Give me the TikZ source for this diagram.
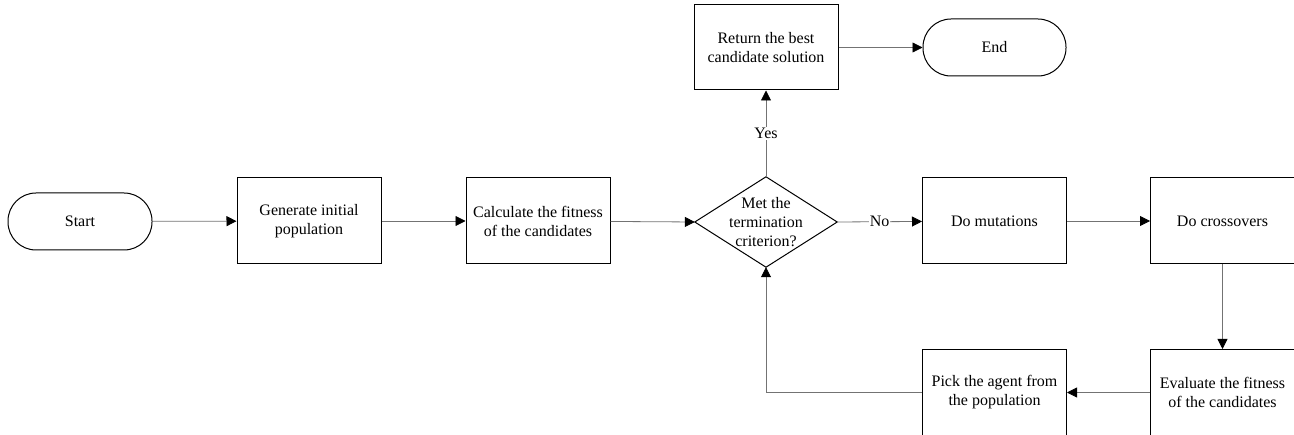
\documentclass[tikz,border=0pt]{standalone}
\usepackage{fontspec}
\setmainfont{Liberation Serif}
\usetikzlibrary{arrows.meta}
\begin{document}
\begin{tikzpicture}[x=1pt,y=1pt,
  txt/.style={align=center,font=\fontsize{16}{19}\selectfont},
  box/.style={txt,draw=black,line width=1pt,minimum width=144pt,minimum height=86pt,inner sep=2pt},
  term/.style={txt,draw=black,line width=1pt,rounded corners=28pt,minimum width=144pt,minimum height=57pt},
  decision/.style={txt,minimum width=142pt,minimum height=90pt,inner sep=0pt},
  conn/.style={draw=black!55,line width=0.8pt,-{Triangle[length=10pt,width=10pt,fill=black,color=black]}},
  lbl/.style={fill=white,inner sep=1pt,font=\fontsize{16}{19}\selectfont}]
\useasboundingbox (0,0) rectangle (1294,-435);
\node[term] (start) at (80,-221.5) {Start};
\node[box] (gen) at (309,-221) {Generate initial\\population};
\node[box] (calc) at (538,-221) {Calculate the fitness\\of the candidates};
\node[decision] (dia) at (766,-222) {Met the\\termination\\criterion?};
\draw[line width=1pt] (dia.north) -- (dia.east) -- (dia.south) -- (dia.west) -- cycle;
\node[box] (mut) at (994.5,-221) {Do mutations};
\node[box] (cross) at (1222.5,-221) {Do crossovers};
\node[box] (eval) at (1222.5,-392.5) {Evaluate the fitness\\of the candidates};
\node[box] (pick) at (994.5,-392.5) {Pick the agent from\\the population};
\node[box,minimum height=85pt] (ret) at (766,-47.5) {Return the best\\candidate solution};
\node[term,minimum width=143pt] (end) at (994.5,-47.5) {End};
\draw[conn] (start) -- (gen);
\draw[conn] (gen) -- (calc);
\draw[conn] (calc) -- (dia.west);
\draw[conn] (dia.east) -- node[lbl] {No} (mut);
\draw[conn] (dia.north) -- node[lbl] {Yes} (ret);
\draw[conn] (ret) -- (end);
\draw[conn] (mut) -- (cross);
\draw[conn] (cross) -- (eval);
\draw[conn] (eval) -- (pick);
\draw[conn] (pick.west) -| (dia.south);
\end{tikzpicture}
\end{document}
